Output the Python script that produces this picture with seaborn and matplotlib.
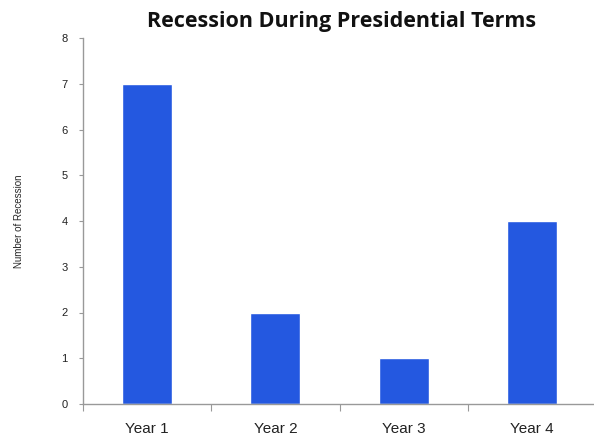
import matplotlib
matplotlib.use("Agg")
import matplotlib.pyplot as plt
import seaborn as sns
import pandas as pd
from matplotlib.ticker import FixedLocator

categories = ["Year 1", "Year 2", "Year 3", "Year 4"]
recessions = [7, 2, 1, 4]

sns.set_theme(style="white")
plt.rcParams['font.family'] = ['Liberation Sans', 'DejaVu Sans']

df = pd.DataFrame({"term": categories, "count": recessions})

fig = plt.figure(figsize=(5.94, 4.37), dpi=100)
ax = fig.add_axes([83/594, 1 - 404/437, (596 - 83)/594, (404 - 38)/437])

sns.barplot(data=df, x="term", y="count", color="#2458E0", saturation=1,
            width=0.39, ax=ax)

ax.set_ylim(0, 8)
ax.set_xlim(-0.5, 3.5)
ax.set_yticks(range(0, 9))
ax.set_xlabel("")
ax.set_ylabel("Number of Recession", fontsize=7, labelpad=27)
ax.tick_params(axis="y", labelsize=8, length=3, width=0.8, color="#999999",
               direction="out", pad=8, left=True)
ax.tick_params(axis="x", which="major", labelsize=11, length=0, pad=13)
ax.xaxis.set_minor_locator(FixedLocator([-0.5, 0.5, 1.5, 2.5, 3.5]))
ax.tick_params(axis="x", which="minor", length=5, width=0.8, color="#999999",
               direction="out", bottom=True)
for lbl in ax.get_xticklabels():
    lbl.set_color("#222222")
for lbl in ax.get_yticklabels():
    lbl.set_color("#222222")

for s in ["top", "right"]:
    ax.spines[s].set_visible(False)
for s in ["left", "bottom"]:
    ax.spines[s].set_color("#999999")
    ax.spines[s].set_linewidth(1.0)

fig.text(341.5/594, 1 - 27.5/437, "Recession During Presidential Terms",
         ha="center", va="baseline", fontsize=15.5, fontweight="bold",
         family=["Open Sans", "DejaVu Sans"], color="#111111")

fig.savefig("out.png", dpi=100)
